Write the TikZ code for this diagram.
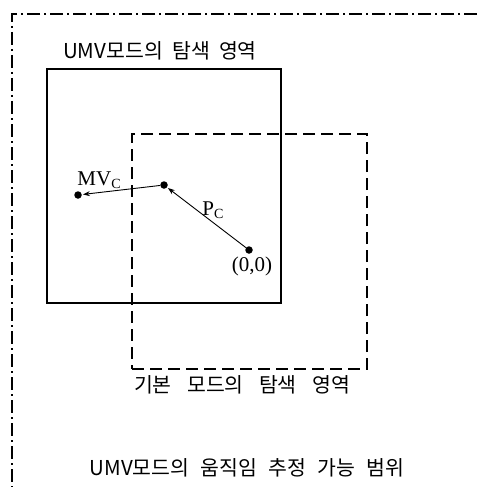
\documentclass[tikz,border=0pt]{standalone}
\usepackage{fontspec}
\setmainfont{Liberation Serif}
\newfontfamily\kr{Noto Sans CJK KR}
\usetikzlibrary{arrows.meta}
\newcommand{\mysub}[1]{\raisebox{-0.3ex}{\fontsize{14}{14}\selectfont #1}}
\begin{document}
\begin{tikzpicture}[x=1pt,y=-1pt,
  krlabel/.style={font=\kr\fontsize{20.5}{22}\selectfont, inner sep=0pt},
  mlabel/.style={font=\fontsize{21}{23}\selectfont, inner sep=0pt},
  dot/.style={circle, fill=black, inner sep=0pt, minimum size=7.5pt},
  vec/.style={line width=0.9pt, -{Stealth[length=7pt,width=5pt]}, shorten >=1pt, shorten <=0pt}]
\useasboundingbox (0,0) rectangle (477,487);
% outer dash-dot range (only top and left visible)
\coordinate (otr) at (477,14);
\coordinate (otl) at (12,14);
\coordinate (obl) at (12,487);
\draw[line width=1.1pt, dash pattern=on 13pt off 4pt on 2pt off 4pt] (otr) -- (otl) -- (obl);
% UMV search area (solid)
\node[draw, line width=1.4pt, minimum width=234pt, minimum height=234pt, inner sep=0pt] (umv) at (164,186) {};
% basic mode search area (dashed)
\node[draw, line width=1.3pt, dash pattern=on 12pt off 6pt, minimum width=235pt, minimum height=235pt, inner sep=0pt] (basic) at (249.5,251.5) {};
% labels
\node[krlabel] (t1) at (160,51) {UMV모드의\hspace{0.45em}탐색\hspace{0.45em}영역};
\node[krlabel] (t2) at (242,385) {기본\hspace{0.75em}모드의\hspace{0.75em}탐색\hspace{0.75em}영역};
\node[krlabel] (t3) at (247,468) {UMV모드의\hspace{0.55em}움직임\hspace{0.55em}추정\hspace{0.55em}가능\hspace{0.55em}범위};
% points
\node[dot] (mv) at (78,195) {};
\node[dot] (mid) at (164,185) {};
\node[dot] (org) at (249,250) {};
\draw[vec] (org) -- (mid);
\draw[vec] (mid) -- (mv);
\node[mlabel] (lmv) at (99,180) {MV\mysub{C}};
\node[mlabel] (lpc) at (213,210) {P\mysub{C}};
\node[mlabel] (lorg) at (252,266) {(0,0)};
\end{tikzpicture}
\end{document}
